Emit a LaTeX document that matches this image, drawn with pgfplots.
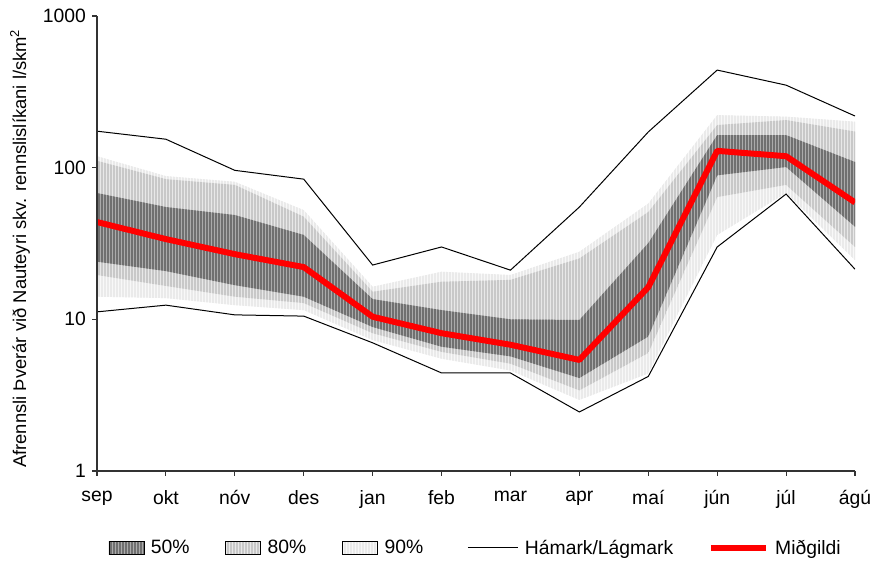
\documentclass[border=0pt]{standalone}
\usepackage{fontspec}
\setmainfont{Liberation Sans}
\usepackage{pgfplots}
\usepackage{pgfplotstable}
\pgfplotsset{compat=1.18}
\usepgfplotslibrary{fillbetween}
\usetikzlibrary{patterns.meta}

\definecolor{b50fill}{HTML}{ABABAB}
\definecolor{b50line}{HTML}{707070}
\definecolor{b80fill}{HTML}{E8E8E8}
\definecolor{b80line}{HTML}{C8C8C8}
\definecolor{b90fill}{HTML}{F8F8F8}
\definecolor{b90line}{HTML}{EAEAEA}

% Monthly runoff statistics (l/s/km2): extremes, median and percentile bands
\pgfplotstableread{
m  mx    mn    med   hi50  lo50  hi80  lo80  hi90  lo90
0  174   11.2  43.8  68    24.0  111   19.6  119   14.1
1  154   12.4  33.8  55    20.8  84    16.6  88    13.8
2  96    10.7  26.9  48.7  16.8  77    14.1  80.7  12.4
3  84    10.5  22.1  36    14.1  47.5  12.8  52.5  11.5
4  22.8  7.0   10.4  13.6  8.9   15.2  8.1   16.4  7.3
5  30    4.43  8.1   11.5  6.6   17.7  6.1   20.6  5.5
6  21.1  4.43  6.8   10.0  5.7   18.2  5.1   19.6  4.6
7  55    2.45  5.4   9.9   4.1   25.2  3.4   27.9  2.94
8  172   4.2   16.3  31.8  7.7   51    6.0   58    4.4
9  440   30    129   164   89    191   64    222   36
10 350   67    119   164   101   206   77    217   68
11 219   21.4  59    109   40.8  173   30    201   24.6
}\flow

\tikzset{
  stripes/.style={pattern={Lines[angle=90,distance=2.25pt,line width=1pt]}},
}
\pgfplotsset{
  blackleg/.style={legend image code/.code={\draw[##1] (0pt,0pt) -- (37.5pt,0pt);}},
  redleg/.style={legend image code/.code={\draw[##1] (0pt,0pt) -- (41pt,0pt);}},
  bandleg/.style 2 args={legend image code/.code={
    \fill[#1] (0pt,-4.9pt) rectangle (26.25pt,4.9pt);
    \fill[stripes, pattern color=#2] (0pt,-4.9pt) rectangle (26.25pt,4.9pt);}},
}

\begin{document}
\begin{tikzpicture}
\begin{axis}[
  name=ax,
  scale only axis,
  width=568.5pt, height=341.25pt,
  axis on top,
  ymode=log,
  xmin=0, xmax=11,
  ymin=1, ymax=1000,
  xtick={0,...,11},
  xticklabels={sep,okt,nóv,des,jan,feb,mar,apr,maí,jún,júl,ágú},
  ytick={1,10,100,1000},
  yticklabels={1,10,100,1000},
  yminorticks=false,
  /pgf/number format/assume math mode=true,
  axis x line*=bottom,
  axis y line*=left,
  axis line style={-, black!80, line width=0.8pt},
  tick align=outside,
  major tick length=3.75pt,
  tick style={black!80, line width=0.8pt},
  tick label style={font=\fontsize{14.5}{17}\selectfont},
  xticklabel style={yshift=-7.5pt},
  yticklabel style={xshift=-1pt},
  ylabel={Afrennsli Þverár við Nauteyri skv. rennslislíkani l/skm\textsuperscript{2}},
  ylabel style={at={(axis description cs:-0.1016,0.489)}, anchor=center,
    font=\fontsize{13.8}{16}\selectfont},
  legend columns=5,
  legend style={at={(0.5,-0.1692)}, anchor=center, draw=none, fill=none,
    font=\fontsize{14.5}{17}\selectfont,
    /tikz/every odd column/.append style={column sep=3pt},
    /tikz/column 2/.style={column sep=25pt},
    /tikz/column 4/.style={column sep=25pt},
    /tikz/column 6/.style={column sep=31pt},
    /tikz/column 8/.style={column sep=24pt},
    /tikz/column 9/.style={column sep=-4pt}},
]
% percentile band outlines
\addplot[draw=none, name path=h90, forget plot] table[x=m,y=hi90]{\flow};
\addplot[draw=none, name path=l90, forget plot] table[x=m,y=lo90]{\flow};
\addplot[draw=none, name path=h80, forget plot] table[x=m,y=hi80]{\flow};
\addplot[draw=none, name path=l80, forget plot] table[x=m,y=lo80]{\flow};
\addplot[draw=none, name path=h50, forget plot] table[x=m,y=hi50]{\flow};
\addplot[draw=none, name path=l50, forget plot] table[x=m,y=lo50]{\flow};

% striped bands, widest first
\addplot[fill=b90fill, forget plot] fill between[of=h90 and l90];
\addplot[stripes, pattern color=b90line, forget plot] fill between[of=h90 and l90];
\addplot[fill=b80fill, forget plot] fill between[of=h80 and l80];
\addplot[stripes, pattern color=b80line, forget plot] fill between[of=h80 and l80];
\addplot[fill=b50fill, forget plot] fill between[of=h50 and l50];
\addplot[stripes, pattern color=b50line, forget plot] fill between[of=h50 and l50];

\addlegendimage{bandleg={b50fill}{b50line}}
\addlegendentry{50\%}
\addlegendimage{bandleg={b80fill}{b80line}}
\addlegendentry{80\%}
\addlegendimage{bandleg={b90fill}{b90line}}
\addlegendentry{90\%}

% extremes
\addplot[black, line width=0.75pt, blackleg] table[x=m,y=mx]{\flow};
\addlegendentry{Hámark/Lágmark}
\addplot[black, line width=0.75pt, forget plot] table[x=m,y=mn]{\flow};

% median
\addplot[red, line width=4.5pt, line join=round, redleg] table[x=m,y=med]{\flow};
\addlegendentry{Miðgildi}
\end{axis}
\pgfresetboundingbox
\useasboundingbox ([xshift=-72.75pt,yshift=-67.5pt]ax.south west)
  rectangle ([xshift=13.5pt,yshift=12pt]ax.north east);
\end{tikzpicture}
\end{document}
